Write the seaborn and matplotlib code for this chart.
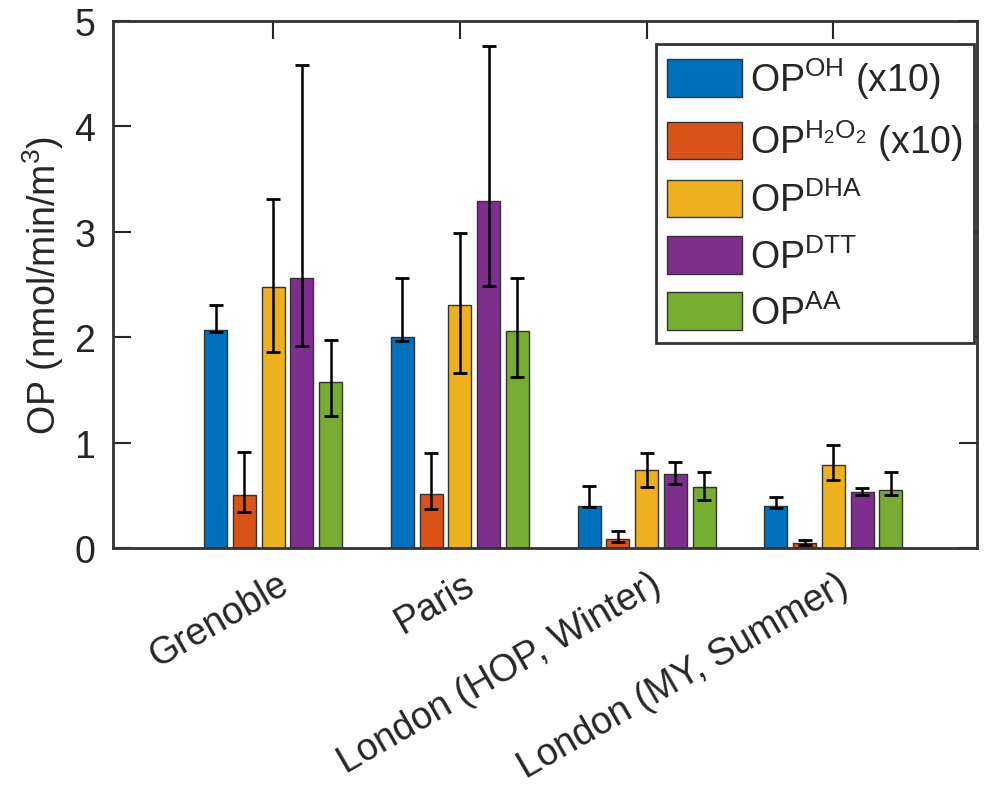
import matplotlib
matplotlib.use("Agg")
import matplotlib.pyplot as plt
import matplotlib.transforms as mtransforms
import numpy as np
import pandas as pd
import seaborn as sns

sites = ["Grenoble", "Paris", "London (HOP, Winter)", "London (MY, Summer)"]
metrics = [
    r"OP$^{\mathrm{OH}}$ (x10)",
    r"OP$^{\mathrm{H_2O_2}}$ (x10)",
    r"OP$^{\mathrm{DHA}}$",
    r"OP$^{\mathrm{DTT}}$",
    r"OP$^{\mathrm{AA}}$",
]
colors = ["#0072BD", "#D95319", "#EDB120", "#7E2F8E", "#77AC30"]

# bar heights per metric, one value per site
op_oh = [2.07, 2.00, 0.40, 0.40]
op_h2o2 = [0.50, 0.51, 0.085, 0.05]
op_dha = [2.48, 2.31, 0.74, 0.79]
op_dtt = [2.56, 3.29, 0.70, 0.53]
op_aa = [1.58, 2.06, 0.58, 0.55]

# lower / upper ends of the error bars
low_oh = [2.05, 1.96, 0.39, 0.38]
high_oh = [2.31, 2.56, 0.59, 0.49]
low_h2o2 = [0.34, 0.37, 0.06, 0.03]
high_h2o2 = [0.91, 0.90, 0.16, 0.08]
low_dha = [1.86, 1.66, 0.58, 0.65]
high_dha = [3.31, 2.99, 0.90, 0.98]
low_dtt = [1.92, 2.49, 0.61, 0.50]
high_dtt = [4.58, 4.76, 0.82, 0.57]
low_aa = [1.25, 1.62, 0.46, 0.50]
high_aa = [1.97, 2.56, 0.72, 0.72]

values = [op_oh, op_h2o2, op_dha, op_dtt, op_aa]
lows = [low_oh, low_h2o2, low_dha, low_dtt, low_aa]
highs = [high_oh, high_h2o2, high_dha, high_dtt, high_aa]

rows = []
for metric, vals, lo, hi in zip(metrics, values, lows, highs):
    for site, v, l, h in zip(sites, vals, lo, hi):
        rows.append({"site": site, "metric": metric, "value": v, "low": l, "high": h})
df = pd.DataFrame(rows)

sns.set_style("ticks")
plt.rcParams["font.family"] = ["Liberation Sans", "DejaVu Sans"]
plt.rcParams["mathtext.fontset"] = "custom"
plt.rcParams["mathtext.rm"] = "Liberation Sans"
plt.rcParams["mathtext.it"] = "Liberation Sans:italic"

FS = 27
fig = plt.figure(figsize=(9.84, 8.03), dpi=100)
ax = fig.add_axes([0.115, 0.316, 0.878, 0.657])

sns.barplot(
    data=df, x="site", y="value", hue="metric", order=sites, hue_order=metrics,
    palette=colors, width=0.77, gap=0.2, errorbar=None, saturation=1,
    edgecolor="#333333", linewidth=1.0, ax=ax,
)

for container, metric in zip(ax.containers, metrics):
    sub = df[df["metric"] == metric].set_index("site").loc[sites]
    xs = [b.get_x() + b.get_width() / 2 for b in container]
    yerr = np.vstack([sub["value"] - sub["low"], sub["high"] - sub["value"]])
    ax.errorbar(xs, sub["value"], yerr=yerr, fmt="none", ecolor="black",
                elinewidth=1.8, capsize=5, capthick=2, zorder=5)

ax.set_ylim(0, 5)
ax.set_xlim(-0.857, 3.77)
ax.set_yticks([0, 1, 2, 3, 4, 5])
ax.set_xlabel("")
ax.set_ylabel(r"OP (nmol/min/m$^3$)", fontsize=FS, color="#262626", labelpad=6)
ax.tick_params(axis="both", direction="in", length=13, width=1.5, labelsize=FS,
               colors="#262626", top=True, right=True)
ax.tick_params(axis="y", pad=13)
ax.tick_params(axis="x", pad=24)
shift = mtransforms.ScaledTranslation(12 / 100, 0, fig.dpi_scale_trans)
for lab in ax.get_xticklabels():
    lab.set_rotation(30)
    lab.set_ha("right")
    lab.set_va("center")
    lab.set_rotation_mode("anchor")
    lab.set_transform(lab.get_transform() + shift)
for sp in ax.spines.values():
    sp.set_visible(True)
    sp.set_linewidth(2)
    sp.set_color("#333333")

leg = ax.legend(
    loc="upper right", bbox_to_anchor=(0.9965, 0.956), borderaxespad=0,
    fontsize=FS, frameon=True, fancybox=False, handlelength=2.0,
    handleheight=1.15, labelspacing=0.45, handletextpad=0.2, borderpad=0.3,
)
leg.get_frame().set_edgecolor("#333333")
leg.get_frame().set_linewidth(2)
leg.get_frame().set_alpha(1)

fig.savefig("out.png", dpi=100)
